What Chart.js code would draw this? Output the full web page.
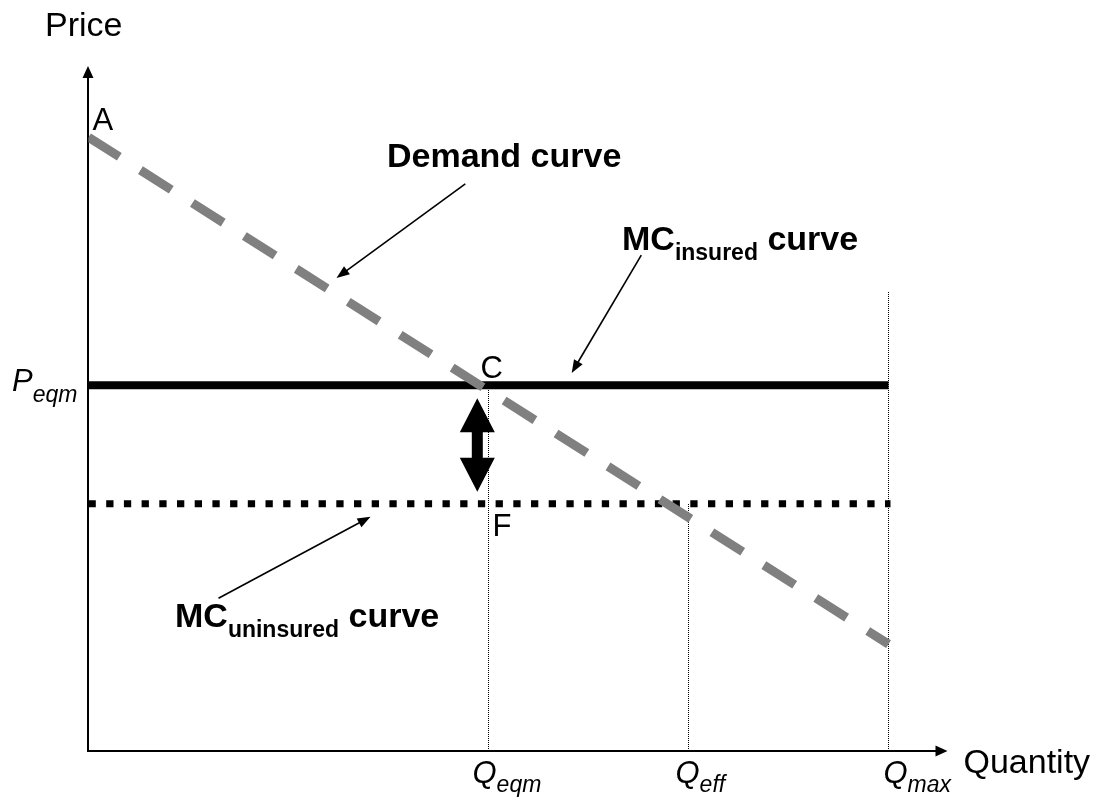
<!DOCTYPE html>
<html>
<head>
<meta charset="utf-8">
<title>MC insured vs uninsured</title>
<script src="https://cdn.jsdelivr.net/npm/chart.js@4/dist/chart.umd.min.js"></script>
<style>
  html, body { margin: 0; padding: 0; background: #fff; }
  canvas { display: block; }
</style>
</head>
<body>
<canvas id="econChart" width="1106" height="802"></canvas>
<script>
// valores (cantidad en x, precio en y)
var qTicks = [50, 75, 100];
var qTickNames = ['eqm', 'eff', 'max'];
var demandQ = [0, 100];
var demandP = [89.6, 15.6];
var mcInsuredQ = [0, 100];
var mcInsuredP = [53.4, 53.4];
var mcUninsuredQ = [0, 100.25];
var mcUninsuredP = [36.1, 36.1];
var guideTops = [53.4, 36.1, 67];   // donde empieza cada linea punteada vertical
var gapQ = 48.6;
var gapP = [51.5, 37.85];            // flecha doble entre C y F

var FONT = "'Liberation Sans', Arial, sans-serif";

function toPoints(xs, ys) {
    return xs.map(function (x, i) { return { x: x, y: ys[i] }; });
}

var datasets = [
    {
        label: 'Demand curve',
        data: toPoints(demandQ, demandP),
        borderColor: '#808080',
        borderWidth: 9,
        borderDash: [36.5, 25]
    },
    {
        label: 'MC insured',
        data: toPoints(mcInsuredQ, mcInsuredP),
        borderColor: '#000',
        borderWidth: 8
    },
    {
        label: 'MC uninsured',
        data: toPoints(mcUninsuredQ, mcUninsuredP),
        borderColor: '#000',
        borderWidth: 7,
        borderDash: [7.3, 10.4]
    }
];

qTicks.forEach(function (q, i) {
    datasets.push({
        label: 'Q ' + qTickNames[i],
        data: [{ x: q, y: 0 }, { x: q, y: guideTops[i] }],
        borderColor: '#000',
        borderWidth: 1,
        borderDash: [1, 1]
    });
});

function arrowHead(ctx, x1, y1, x2, y2, len, half) {
    var a = Math.atan2(y2 - y1, x2 - x1);
    ctx.beginPath();
    ctx.moveTo(x2, y2);
    ctx.lineTo(x2 - len * Math.cos(a) + half * Math.sin(a), y2 - len * Math.sin(a) - half * Math.cos(a));
    ctx.lineTo(x2 - len * Math.cos(a) - half * Math.sin(a), y2 - len * Math.sin(a) + half * Math.cos(a));
    ctx.closePath();
    ctx.fill();
}

function pointer(ctx, x1, y1, x2, y2) {
    var a = Math.atan2(y2 - y1, x2 - x1);
    ctx.beginPath();
    ctx.moveTo(x1, y1);
    ctx.lineTo(x2 - 10 * Math.cos(a), y2 - 10 * Math.sin(a));
    ctx.stroke();
    arrowHead(ctx, x1, y1, x2, y2, 13, 5);
}

// texto con subindice: partes [texto, tamaño, estilo, desplazamiento]
function richText(ctx, x, y, parts) {
    parts.forEach(function (p) {
        ctx.font = p[2] + ' ' + p[1] + 'px ' + FONT;
        ctx.fillText(p[0], x, y + (p[3] || 0));
        x += ctx.measureText(p[0]).width;
    });
}

var axesPlugin = {
    id: 'axesPlugin',
    beforeDatasetsDraw: function (chart) {
        var ctx = chart.ctx, a = chart.chartArea;
        var left = a.left - 0.5;
        ctx.save();
        ctx.fillStyle = '#000';
        ctx.strokeStyle = '#000';
        ctx.lineWidth = 2;
        ctx.beginPath();
        ctx.moveTo(left - 1, a.bottom);
        ctx.lineTo(a.right - 8, a.bottom);
        ctx.moveTo(left, a.bottom);
        ctx.lineTo(left, a.top + 8);
        ctx.stroke();
        arrowHead(ctx, left, a.bottom, a.right, a.bottom, 12, 5.5);
        arrowHead(ctx, left, a.bottom, left, a.top, 12, 5.5);
        ctx.restore();
    }
};

var notesPlugin = {
    id: 'notesPlugin',
    afterDraw: function (chart) {
        var ctx = chart.ctx, a = chart.chartArea;
        var sx = chart.scales.x, sy = chart.scales.y;
        var X = function (v) { return sx.getPixelForValue(v); };
        var Y = function (v) { return sy.getPixelForValue(v); };
        ctx.save();
        ctx.fillStyle = '#000';
        ctx.strokeStyle = '#000';
        ctx.textBaseline = 'alphabetic';

        // flecha doble
        var gx = X(gapQ), gt = Y(gapP[0]), gb = Y(gapP[1]);
        var hw = 17.5, hh = 34, sw = 5.5;
        ctx.beginPath();
        ctx.moveTo(gx, gt);
        ctx.lineTo(gx + hw, gt + hh);
        ctx.lineTo(gx + sw, gt + hh);
        ctx.lineTo(gx + sw, gb - hh);
        ctx.lineTo(gx + hw, gb - hh);
        ctx.lineTo(gx, gb);
        ctx.lineTo(gx - hw, gb - hh);
        ctx.lineTo(gx - sw, gb - hh);
        ctx.lineTo(gx - sw, gt + hh);
        ctx.lineTo(gx - hw, gt + hh);
        ctx.closePath();
        ctx.fill();

        // flechas de las etiquetas
        ctx.lineWidth = 1.6;
        pointer(ctx, X(47.1), Y(82.8), X(31), Y(69.05));
        pointer(ctx, X(69.1), Y(72.4), X(60.4), Y(55.2));
        pointer(ctx, X(16.25), Y(22.3), X(35.25), Y(34.2));

        // textos de ejes
        ctx.font = '34px ' + FONT;
        ctx.fillText('Price', 45, 36);
        ctx.fillText('Quantity', a.right + 16, a.bottom + 22);
        ctx.font = '31px ' + FONT;
        ctx.fillText('A', a.left + 4, Y(demandP[0]) - 7);
        ctx.fillText('C', X(qTicks[0]) - 8, Y(mcInsuredP[0]) - 7);
        ctx.fillText('F', X(qTicks[0]) + 4, Y(mcUninsuredP[0]) + 32);

        richText(ctx, 12, Y(mcInsuredP[0]) + 6, [
            ['P', 31, 'italic', 0], ['eqm', 23, 'italic', 11]
        ]);
        var qOff = [-16, -13, -5];
        qTicks.forEach(function (q, i) {
            richText(ctx, X(q) + qOff[i], a.bottom + 32, [
                ['Q', 31, 'italic', 0], [qTickNames[i], 23, 'italic', 9]
            ]);
        });

        // etiquetas de curvas
        ctx.font = 'bold 34px ' + FONT;
        ctx.fillText('Demand curve', 387, 167);
        richText(ctx, 622, 250, [
            ['MC', 34, 'bold', 0], ['insured', 23, 'bold', 10], [' curve', 34, 'bold', 0]
        ]);
        richText(ctx, 175, 627, [
            ['MC', 34, 'bold', 0], ['uninsured', 23, 'bold', 10], [' curve', 34, 'bold', 0]
        ]);
        ctx.restore();
    }
};

var econChart = new Chart(document.getElementById('econChart').getContext('2d'), {
    type: 'scatter',
    data: { datasets: datasets },
    options: {
        responsive: false,
        animation: false,
        showLine: true,
        layout: { padding: { left: 88.5, right: 158.5, top: 66, bottom: 51 } },
        elements: {
            point: { radius: 0, hoverRadius: 0 },
            line: { tension: 0, borderCapStyle: 'butt' }
        },
        scales: {
            x: { type: 'linear', min: 0, max: 107.375, display: false },
            y: { type: 'linear', min: 0, max: 100, display: false }
        },
        plugins: {
            legend: { display: false },
            tooltip: { enabled: false }
        }
    },
    plugins: [axesPlugin, notesPlugin]
});
</script>
</body>
</html>
